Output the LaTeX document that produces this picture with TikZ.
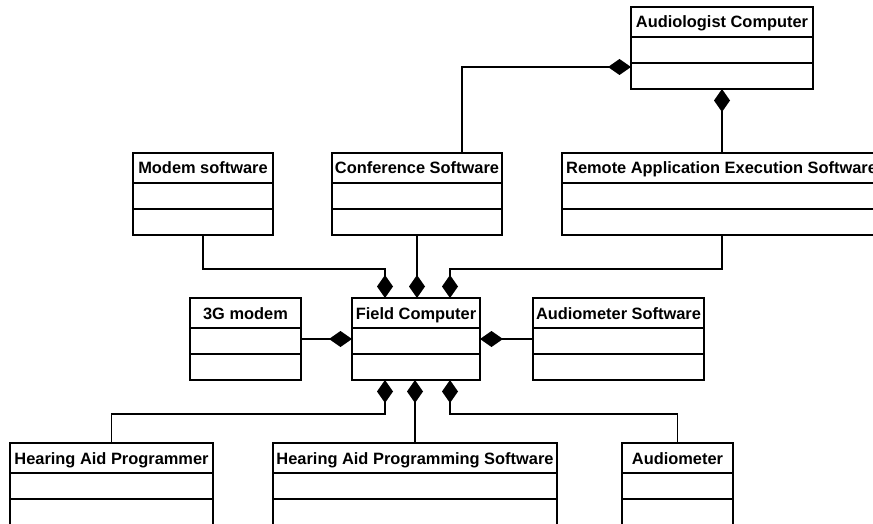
\documentclass[tikz,border=0pt]{standalone}
\usepackage{fontspec}
\setmainfont{Liberation Sans}
\usetikzlibrary{arrows.meta,calc}
\tikzset{
  classbox/.style={draw, rectangle, line width=1.9pt, fill=white, inner sep=0pt, outer sep=0pt, anchor=north west},
  headtext/.style={font=\bfseries\fontsize{16.4}{18}\selectfont, inner sep=0pt, anchor=base},
  sepline/.style={line width=1.7pt},
  comp/.style={line width=1.8pt, -{Diamond[length=23pt,width=16pt]}},
}
% name, x1, y1, x2, y2, title
\newcommand{\umlclass}[6]{%
  \node[classbox, minimum width={#4-#2}, minimum height={#5-#3}] (#1) at (#2,#3) {};
  \node[headtext] at ($(#1.north)+(0,21)$) {#6};
  \draw[sepline] ($(#1.north west)+(0,30)$) -- ($(#1.north east)+(0,30)$);
  \draw[sepline] ($(#1.north west)+(0,56)$) -- ($(#1.north east)+(0,56)$);
}
\begin{document}
\begin{tikzpicture}[x=1pt,y=-1pt]
\useasboundingbox (0,0) rectangle (873,524);
\fill[white] (0,0) rectangle (873,524);
\clip (0,0) rectangle (873,524);

\umlclass{audio}{631}{7}{813}{89}{Audiologist Computer}
\umlclass{modemsw}{133}{153}{273}{235}{Modem software}
\umlclass{conf}{332}{153}{502}{235}{Conference Software}
% remote box runs past the right edge
\node[classbox, minimum width=320, minimum height=82] (remote) at (562,153) {};
\node[headtext, anchor=base west] at ($(remote.north west)+(4,21)$) {Remote Application Execution Software};
\draw[sepline] ($(remote.north west)+(0,30)$) -- ($(remote.north east)+(0,30)$);
\draw[sepline] ($(remote.north west)+(0,56)$) -- ($(remote.north east)+(0,56)$);

\umlclass{modem}{190}{298}{301}{380}{3G modem}
\umlclass{field}{352}{298}{480}{380}{Field Computer}
\umlclass{audsw}{533}{298}{704}{380}{Audiometer Software}

\umlclass{hap}{10}{443}{213}{526}{Hearing Aid Programmer}
\umlclass{haps}{273}{443}{557}{526}{Hearing Aid Programming Software}
\umlclass{audm}{622}{443}{733}{526}{Audiometer}

% Audiologist Computer compositions
\draw[comp] ([xshift=45pt]conf.north) |- ([yshift=-60pt]audio.north west);
\draw[comp] (remote.north) -- (audio.south);

% top compositions of Field Computer
\draw[comp] (modemsw.south) |- ([xshift=33pt,yshift=29pt]field.north west) -- ([xshift=33pt]field.north west);
\draw[comp] (conf.south) -- (conf.south |- field.north);
\draw[comp] (remote.south) |- ([xshift=-30pt,yshift=29pt]field.north east) -- ([xshift=-30pt]field.north east);

% side compositions
\draw[comp] (modem.east) -- (field.west);
\draw[comp] (audsw.west) -- (field.east);

% bottom compositions
\draw[comp] (hap.north) |- ([xshift=33pt,yshift=-34pt]field.south west) -- ([xshift=33pt]field.south west);
\draw[comp] (haps.north) -- (haps.north |- field.south);
\draw[comp] (audm.north) |- ([xshift=-30pt,yshift=-34pt]field.south east) -- ([xshift=-30pt]field.south east);
\end{tikzpicture}
\end{document}
